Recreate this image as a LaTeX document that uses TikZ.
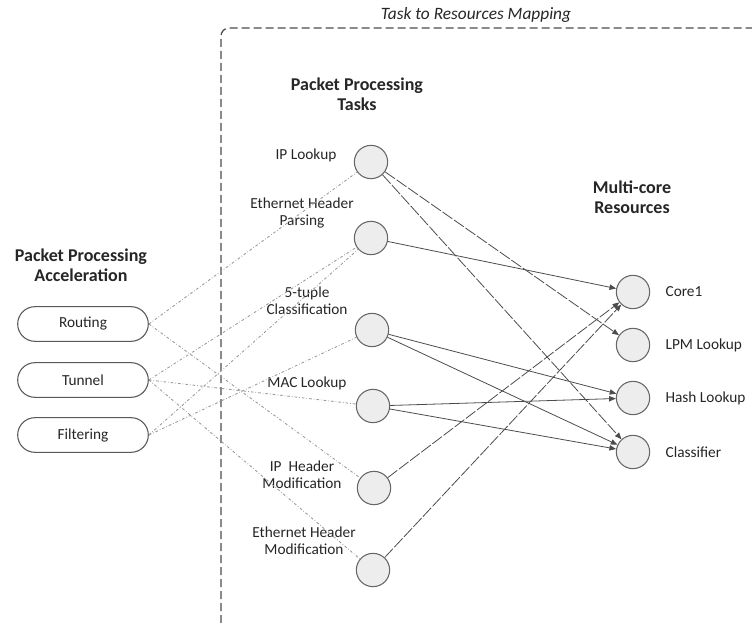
\documentclass[tikz,border=0pt]{standalone}
\usepackage{fontspec}
\setmainfont{Carlito}
\usepackage{tikz}
\usetikzlibrary{arrows.meta, positioning}

\begin{document}
\begin{tikzpicture}[
  x=0.75pt, y=-0.75pt,
  title/.style={font=\fontsize{13.5}{15}\selectfont\bfseries, text=black!85, align=center},
  lbl/.style={font=\fontsize{11.5}{13}\selectfont, text=black!85, align=center},
  accbox/.style={rectangle, draw=black!65, rounded corners=13pt, line width=0.8pt,
                 minimum width=98pt, minimum height=26pt, fill=white,
                 font=\fontsize{11.5}{12}\selectfont, text=black!85},
  taskcirc/.style={circle, draw=black!60, fill=gray!14, line width=0.8pt,
                   minimum size=25pt, inner sep=0pt},
  rescirc/.style={taskcirc},
  dotline/.style={gray!80, line width=0.65pt, dash pattern=on 2pt off 1.5pt on 0.5pt off 1.5pt},
  arrow/.style={-{Triangle[length=5pt, width=4pt]}, line width=0.6pt, color=black!70},
  longdash/.style={arrow, dash pattern=on 9pt off 1.5pt}
]

\useasboundingbox (0,0) rectangle (752,623);

\node[font=\fontsize{13}{14}\selectfont\itshape, text=black!85] (maptitle) at (476,15) {Task to Resources Mapping};
\draw[dash pattern=on 6pt off 3pt, line width=1pt, black!70, rounded corners=6pt]
  (221,623) -- (221,28) -- (752,28);

\node[title] (acctitle) at (81,265) {Packet Processing\\Acceleration};
\node[accbox] (routing) at (83,324) {Routing};
\node[accbox] (tunnel) at (83,380) {Tunnel};
\node[accbox] (filtering) at (83,435) {Filtering};

\node[title] (tasktitle) at (357,94) {Packet Processing\\Tasks};
\node[taskcirc] (iplookup) at (371,162) {};
\node[taskcirc] (ethparse) at (371,238) {};
\node[taskcirc] (fivetuple) at (372,330) {};
\node[taskcirc] (maclookup) at (373,406) {};
\node[taskcirc] (iphdrmod) at (374,488) {};
\node[taskcirc] (ethhdrmod) at (373,570) {};

\node[lbl] (iplookuplbl) at (306,155) {IP Lookup};
\node[lbl] (ethparselbl) at (302,213) {Ethernet Header\\Parsing};
\node[lbl] (fivetuplelbl) at (307,301) {5-tuple\\Classification};
\node[lbl] (maclookuplbl) at (307,383) {MAC Lookup};
\node[lbl] (iphdrmodlbl) at (302,475) {IP~~Header\\Modification};
\node[lbl] (ethhdrmodlbl) at (304,541) {Ethernet Header\\Modification};

\node[title] (restitle) at (632,197) {Multi-core\\Resources};
\node[rescirc] (core1) at (633,292) {};
\node[rescirc] (lpm) at (633,345) {};
\node[rescirc] (hash) at (633,398) {};
\node[rescirc] (classifier) at (633,452) {};

\node[lbl, right=8pt of core1] (core1lbl) {Core1};
\node[lbl, right=8pt of lpm] (lpmlbl) {LPM Lookup};
\node[lbl, right=8pt of hash] (hashlbl) {Hash Lookup};
\node[lbl, right=8pt of classifier] (classifierlbl) {Classifier};

\draw[dotline] (routing.east) -- (iplookup);
\draw[dotline] (routing.east) -- (iphdrmod);
\draw[dotline] (tunnel.east) -- (ethparse);
\draw[dotline] (tunnel.east) -- (maclookup);
\draw[dotline] (tunnel.east) -- (ethhdrmod);
\draw[dotline] (filtering.east) -- (ethparse);
\draw[dotline] (filtering.east) -- (fivetuple);

\draw[longdash] (iplookup) -- (lpm);
\draw[longdash] (iplookup) -- (classifier);
\draw[arrow] (ethparse) -- (core1);
\draw[arrow] (fivetuple) -- (hash);
\draw[arrow] (fivetuple) -- (classifier);
\draw[arrow] (maclookup) -- (hash);
\draw[arrow] (maclookup) -- (classifier);
\draw[longdash] (iphdrmod) -- (core1);
\draw[longdash] (ethhdrmod) -- (core1);

\end{tikzpicture}
\end{document}
